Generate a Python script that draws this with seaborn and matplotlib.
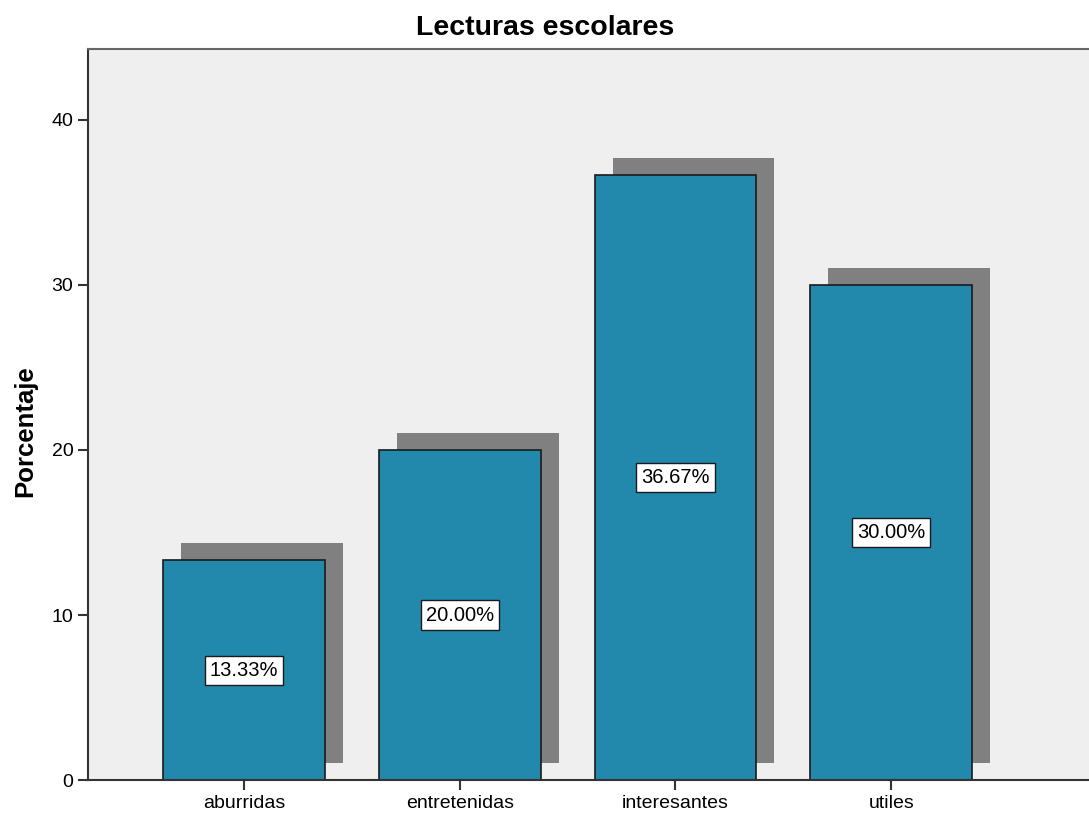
import numpy as np
import pandas as pd
import matplotlib
matplotlib.use('Agg')
import matplotlib.pyplot as plt
import seaborn as sns

# Data
categorias = ['aburridas', 'entretenidas', 'interesantes', 'utiles']
porcentajes = [13.33, 20.00, 36.67, 30.00]
etiquetas = ['13.33%', '20.00%', '36.67%', '30.00%']

df = pd.DataFrame({'categoria': categorias, 'porcentaje': porcentajes})

sns.set_style('white')
plt.rcParams['font.family'] = ['Liberation Sans', 'DejaVu Sans']
plt.rcParams['text.color'] = 'black'
plt.rcParams['axes.labelcolor'] = 'black'
plt.rcParams['xtick.color'] = 'black'
plt.rcParams['ytick.color'] = 'black'

fig = plt.figure(figsize=(10.89, 8.15), dpi=100)
ax = fig.add_axes([0.0808, 0.0429, 0.9192, 0.897])
ax.set_facecolor('#efefef')

bar_color = '#2389ac'
width = 0.75

# Shadow behind the bars
pos = np.arange(len(categorias))
ax.bar(pos + 0.084, porcentajes, width=width, bottom=1.05,
       color='#808080', edgecolor='none', zorder=1)

sns.barplot(data=df, x='categoria', y='porcentaje', color=bar_color,
            saturation=1, width=width, edgecolor='#1a1a1a', linewidth=1.2,
            ax=ax, zorder=2)

# Value labels in white boxes at half height
for i, (v, t) in enumerate(zip(porcentajes, etiquetas)):
    ax.text(i, v / 2, t, ha='center', va='center', fontsize=14.5, zorder=5,
            bbox=dict(boxstyle='square,pad=0.25', facecolor='white',
                      edgecolor='#1a1a1a', linewidth=1))

ax.set_xlim(-0.723, 3.917)
ax.set_ylim(0, 44.3)
ax.set_yticks([0, 10, 20, 30, 40])
ax.set_xlabel('')
ax.set_ylabel('Porcentaje', fontsize=18.5, fontweight='bold')
ax.yaxis.set_label_coords(-0.051, 0.477)
fig.suptitle('Lecturas escolares', fontsize=20.5, fontweight='bold',
             x=0.501, y=0.982)

ax.tick_params(axis='both', direction='out', length=7, width=1.5,
               color='#333333', labelsize=14, left=True, bottom=True)
for side in ['left', 'bottom', 'top']:
    ax.spines[side].set_color('#333333')
    ax.spines[side].set_linewidth(1.5)
ax.spines['top'].set_color('#666666')
ax.spines['right'].set_visible(False)

fig.savefig('out.png', dpi=100)
